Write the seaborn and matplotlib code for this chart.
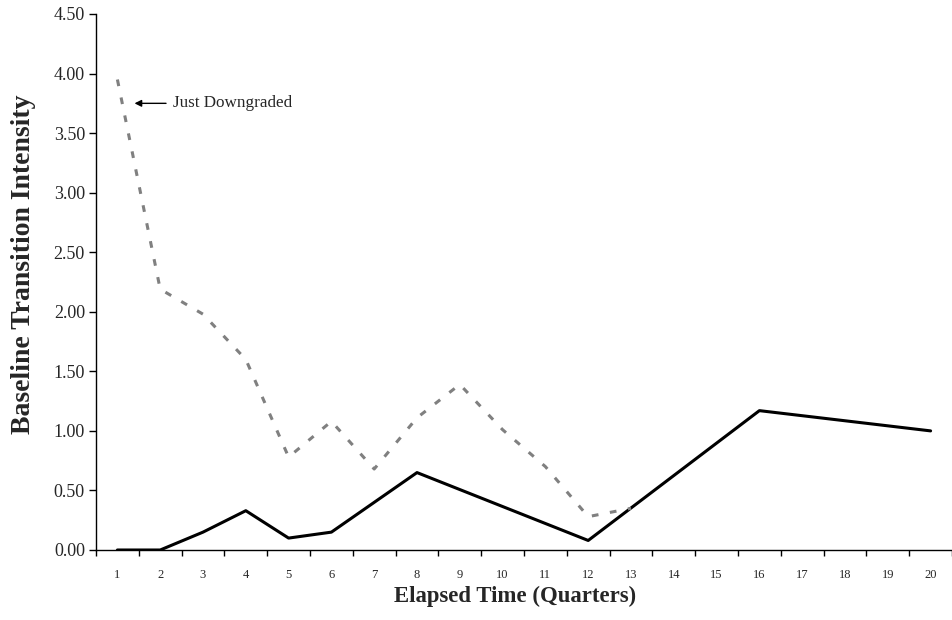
import numpy as np
import pandas as pd
import seaborn as sns
import matplotlib.pyplot as plt

# quarters since the rating event
quarters = list(range(1, 21))
tick_labels = [str(q) for q in quarters]

# solid black series (missing quarters are joined by a straight segment)
solid_vals = [0.00, 0.00, 0.15, 0.33, 0.10, 0.15, np.nan, 0.65, np.nan, np.nan,
              np.nan, 0.08, np.nan, np.nan, np.nan, 1.17, np.nan, np.nan, np.nan, 1.00]
# dotted grey series ("Just Downgraded")
downgraded_vals = [3.95, 2.19, 1.98, 1.60, 0.78, 1.08, 0.68, 1.11, 1.39, 1.01,
                   0.70, 0.28, 0.35, np.nan, np.nan, np.nan, np.nan, np.nan, np.nan, np.nan]

df = pd.DataFrame({"quarter": quarters, "solid": solid_vals, "downgraded": downgraded_vals})

sns.set_style("ticks")
plt.rcParams["font.family"] = ["Liberation Serif", "DejaVu Serif"]

fig = plt.figure(figsize=(9.52, 6.2), dpi=100)
ax = fig.add_axes([96 / 952, 70 / 620, 856 / 952, 536 / 620])

d1 = df.dropna(subset=["solid"])
sns.lineplot(data=d1, x="quarter", y="solid", ax=ax, color="black", lw=2.2)
d2 = df.dropna(subset=["downgraded"])
sns.lineplot(data=d2, x="quarter", y="downgraded", ax=ax, color="#808080", lw=2.2,
             linestyle=(0, (2.2, 3.8)))

ax.set_xlim(0.5, 0.5 + 856 / 43.16)
ax.set_ylim(0, 4.5)
yt = np.arange(0, 4.51, 0.5)
ax.set_yticks(yt)
ax.set_yticklabels([f"{v:.2f}" for v in yt], fontsize=13)
ax.set_xticks(quarters)
ax.set_xticklabels(tick_labels, fontsize=9)
ax.set_xticks(np.arange(0.5, 21, 1), minor=True)
ax.tick_params(axis="x", which="major", length=0, pad=14)
ax.tick_params(axis="x", which="minor", length=4, width=1, color="black")
ax.tick_params(axis="y", length=5, width=1, color="black", pad=3)

for side in ["top", "right"]:
    ax.spines[side].set_visible(False)
for side in ["left", "bottom"]:
    ax.spines[side].set_color("black")
    ax.spines[side].set_linewidth(1)

ax.set_xlabel("Elapsed Time (Quarters)", fontsize=16.4, fontweight="bold")
ax.xaxis.set_label_coords(0.489, -0.066)
ax.set_ylabel("Baseline Transition Intensity", fontsize=20, fontweight="bold")
ax.yaxis.set_label_coords(-0.07, 0.534)

ax.annotate("Just Downgraded", xy=(1.40, 3.75), xytext=(2.31, 3.75),
            fontsize=12.3, va="center", ha="left",
            arrowprops=dict(arrowstyle="-|>", color="black", lw=1,
                            mutation_scale=10, shrinkA=3, shrinkB=0))

plt.savefig("out.png", dpi=100)
